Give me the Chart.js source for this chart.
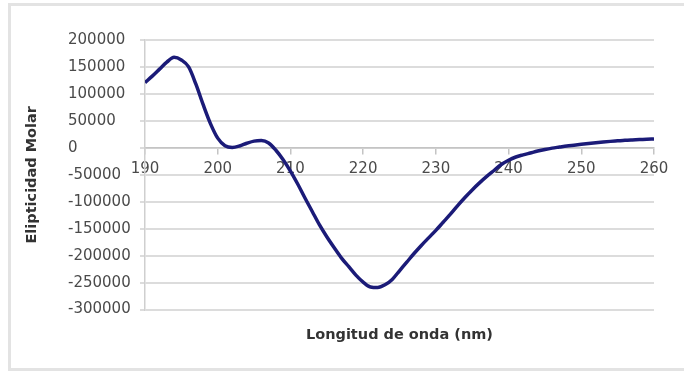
<!DOCTYPE html>
<html>
<head>
<meta charset="utf-8">
<script src="https://cdn.jsdelivr.net/npm/chart.js@4"></script>
<style>
  html, body { margin: 0; padding: 0; background: #fff; }
  #wrap { position: relative; width: 684px; height: 375px; overflow: hidden; }
  #frame { position: absolute; left: 8px; top: 3px; width: 690px; height: 368px; border: 3px solid #e3e3e3; box-sizing: border-box; pointer-events: none; }
</style>
</head>
<body>
<div id="wrap">
  <canvas id="cd"></canvas>
  <div id="frame"></div>
</div>
<script>
  // Longitud de onda (nm)
  var wavelengths = [
    190, 191, 192, 193, 194, 195, 196, 197, 198, 199,
    200, 201, 202, 203, 204, 205, 206, 207, 208, 209,
    210, 211, 212, 213, 214, 215, 216, 217, 218, 219,
    220, 221, 222, 223, 224, 225, 226, 227, 228, 229,
    230, 231, 232, 233, 234, 235, 236, 237, 238, 239,
    240, 241, 242, 243, 244, 245, 246, 247, 248, 249,
    250, 251, 252, 253, 254, 255, 256, 257, 258, 259, 260
  ];
  // Elipticidad molar
  var ellipticity = [
    121000, 133000, 146000, 159000, 168000, 163000, 150000, 118000, 80000, 45000,
    18000, 4000, 800, 3500, 8500, 12500, 13500, 9000, -4500, -22000,
    -43000, -67000, -93000, -118000, -143000, -165000, -185000, -204000, -220000, -236000,
    -249000, -258000, -259000, -254000, -244000, -228000, -212000, -196000, -181000, -167000,
    -153000, -138000, -123000, -107000, -92000, -78000, -65000, -53000, -42000, -31000,
    -23000, -17000, -13000, -9500, -6000, -3000, -500, 1500, 3500, 5000,
    6500, 8000, 9500, 10800, 12000, 13000, 14000, 14700, 15300, 16000, 16500
  ];
  var xTicks = [190, 200, 210, 220, 230, 240, 250, 260];
  var yTicks = [200000, 150000, 100000, 50000, 0, -50000, -100000, -150000, -200000, -250000, -300000];

  var points = wavelengths.map(function (w, i) { return { x: w, y: ellipticity[i] }; });

  Chart.defaults.font.family = '"DejaVu Sans", sans-serif';

  var tickFont = { size: 15 };
  var titleFont = { size: 14.5, weight: 'bold' };
  var yMin = yTicks[yTicks.length - 1], yMax = yTicks[0];
  var xMin = xTicks[0], xMax = xTicks[xTicks.length - 1];

  new Chart(document.getElementById('cd').getContext('2d'), {
    type: 'line',
    data: {
      datasets: [{
        data: points,
        xAxisID: 'x',
        yAxisID: 'y',
        borderColor: '#1b1b78',
        borderWidth: 3.5,
        pointRadius: 0,
        fill: false,
        cubicInterpolationMode: 'monotone'
      }]
    },
    options: {
      responsive: true,
      maintainAspectRatio: false,
      animation: false,
      layout: { padding: { top: 40, right: 30, bottom: 27, left: 0 } },
      plugins: { legend: { display: false }, tooltip: { enabled: false } },
      scales: {
        x: {
          type: 'linear',
          position: { y: 0 },
          min: xMin, max: xMax,
          afterBuildTicks: function (s) { s.ticks = xTicks.map(function (v) { return { value: v }; }); },
          ticks: { color: '#4a4a4a', font: tickFont, padding: 6, callback: function (v) { return String(v); } },
          grid: { drawOnChartArea: false, drawTicks: true, tickLength: 6, color: '#c4c4c4', lineWidth: 1.5 },
          border: { color: '#c4c4c4', width: 1.5 }
        },
        // title-only axis so the x title sits under the plot
        x2: {
          type: 'linear',
          position: 'bottom',
          min: xMin, max: xMax,
          ticks: { display: false },
          grid: { display: false, drawTicks: false },
          border: { display: false },
          title: { display: true, text: 'Longitud de onda (nm)', color: '#333', font: titleFont, padding: { top: 17, bottom: 4 } }
        },
        // title-only axis on the far left
        y2: {
          type: 'linear',
          position: 'left',
          weight: 10,
          min: yMin, max: yMax,
          afterFit: function (s) { s.width = 68; },
          ticks: { display: false },
          grid: { display: false, drawTicks: false },
          border: { display: false },
          title: { display: true, text: 'Elipticidad Molar', color: '#333', font: titleFont, padding: { top: 24, bottom: 0 } }
        },
        y: {
          type: 'linear',
          position: 'left',
          weight: 0,
          min: yMin, max: yMax,
          afterBuildTicks: function (s) { s.ticks = yTicks.map(function (v) { return { value: v }; }); },
          afterFit: function (s) { s.width = 77; },
          ticks: { color: '#4a4a4a', font: tickFont, crossAlign: 'far', callback: function (v) { return String(v); } },
          grid: { color: '#dcdcdc', lineWidth: 2, drawTicks: true, tickLength: 5 },
          border: { color: '#cfcfcf', width: 1.5 }
        }
      }
    }
  });
</script>
</body>
</html>
